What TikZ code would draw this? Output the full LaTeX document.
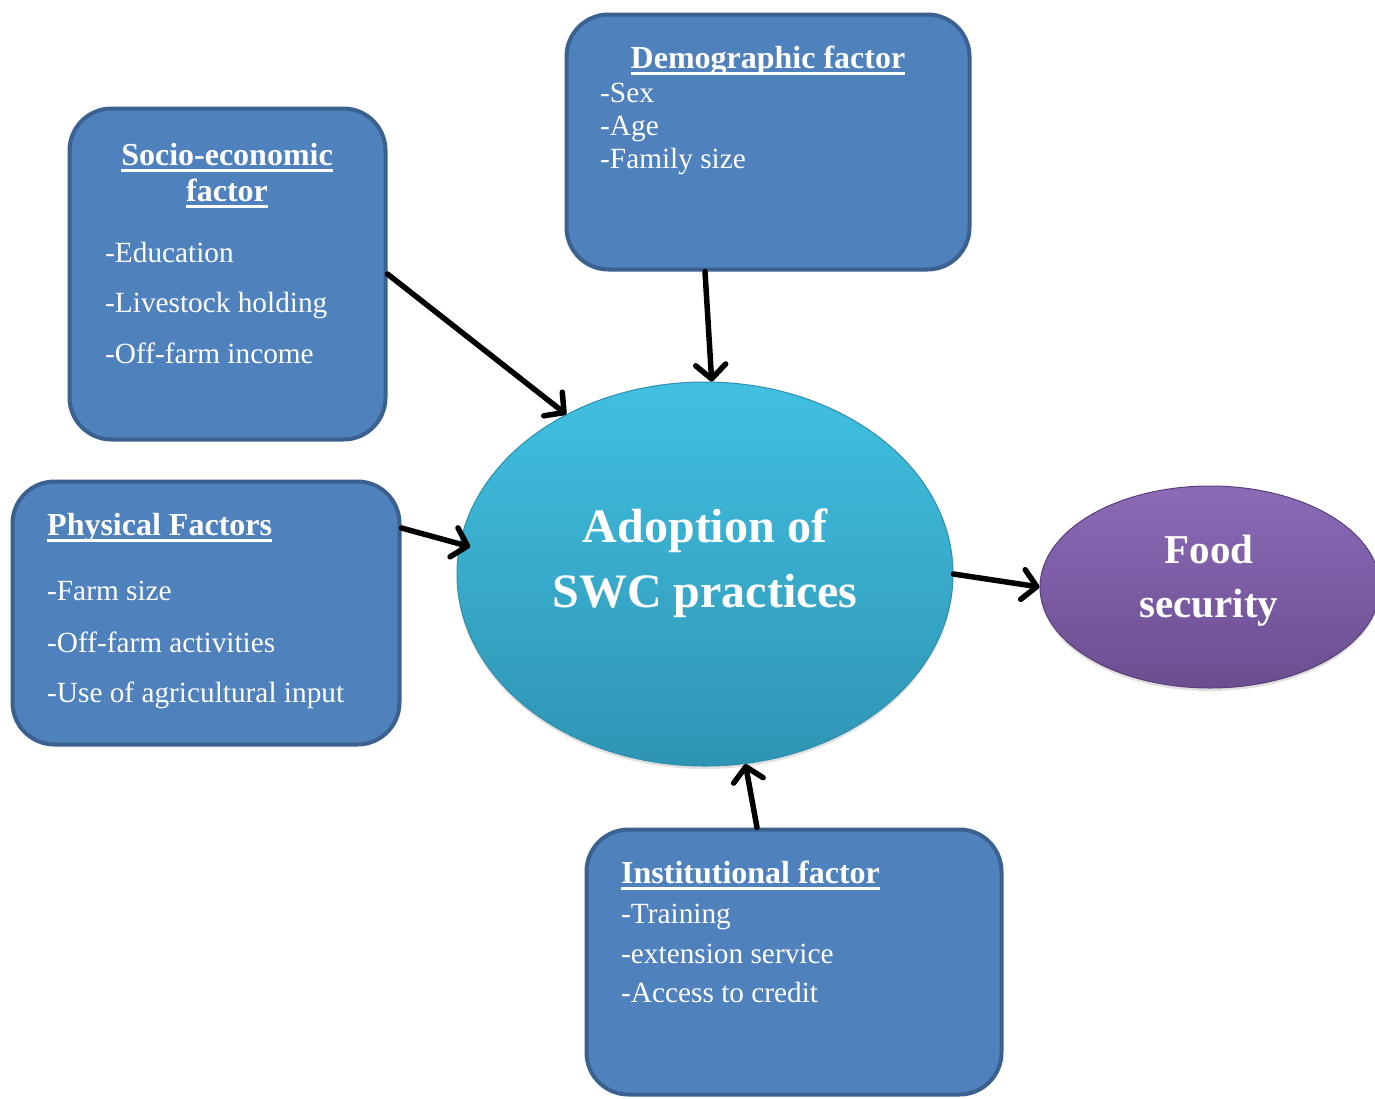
\documentclass[tikz,border=0pt]{standalone}
\usepackage{fontspec}
\setmainfont{Liberation Serif}
\usepackage{tikz}
\usetikzlibrary{shapes.geometric, arrows.meta, shadows, positioning}
\newcommand{\ulhead}[1]{\setbox0\hbox{#1}\rlap{\rule[-6.5pt]{\wd0}{2.8pt}}\box0}
\definecolor{boxfill}{HTML}{4F81BD}
\definecolor{boxline}{HTML}{3A6190}
\definecolor{swctop}{HTML}{41C0E1}
\definecolor{swcbot}{HTML}{2F94B4}
\definecolor{swcline}{HTML}{2E8FAE}
\definecolor{foodtop}{HTML}{8C6AB7}
\definecolor{foodbot}{HTML}{6B4E90}
\definecolor{foodline}{HTML}{5A4079}
\tikzstyle{factor} = [rectangle, rounded corners=42pt, draw=boxline, line width=4pt, fill=boxfill, inner sep=0pt]
\tikzstyle{head} = [text=white, font=\bfseries\fontsize{32}{36}\selectfont, inner sep=0pt]
\tikzstyle{item} = [text=white, font=\fontsize{29.3}{34}\selectfont, inner sep=0pt, anchor=base west]
\tikzstyle{blob} = [ellipse, inner sep=0pt, drop shadow={opacity=0.25, shadow xshift=0pt, shadow yshift=-3pt}]
\tikzstyle{arrow} = [line width=5.5pt, line cap=round, -{Straight Barb[length=14pt, width=30pt, round]}]
\begin{document}
\begin{tikzpicture}[x=1pt, y=-1pt]
		\useasboundingbox (0,0) rectangle (1375,1098);
		% factor boxes
		\node (Socio) [factor, minimum width=316pt, minimum height=331pt] at (227.5,274) {};
		\node (Demo) [factor, minimum width=403pt, minimum height=255pt] at (768,142) {};
		\node (Phys) [factor, minimum width=387pt, minimum height=263pt] at (206,613) {};
		\node (Inst) [factor, minimum width=415pt, minimum height=265pt] at (794,962) {};
		% centre and outcome
		\node (SWC) [blob, minimum width=496pt, minimum height=384pt, top color=swctop, bottom color=swcbot, draw=swcline, line width=1pt] at (705,574) {};
		\node (Food) [blob, minimum width=340pt, minimum height=202pt, top color=foodtop, bottom color=foodbot, draw=foodline, line width=1pt] at (1210,587) {};
		% texts
		\node (SocioHead) [head, anchor=base] at (227,165) {\ulhead{Socio-economic}};
		\node (SocioHead2) [head, anchor=base] at (227,201) {\ulhead{factor}};
		\node (SocioA) [item] at (105,262) {-Education};
		\node (SocioB) [item] at (105,312) {-Livestock holding};
		\node (SocioC) [item] at (105,363) {-Off-farm income};
		\node (DemoHead) [head, anchor=base] at (768,68) {\ulhead{Demographic factor}};
		\node (DemoA) [item] at (600,102) {-Sex};
		\node (DemoB) [item] at (600,135) {-Age};
		\node (DemoC) [item] at (600,168) {-Family size};
		\node (PhysHead) [head, anchor=base west] at (47,535) {\ulhead{Physical Factors}};
		\node (PhysA) [item] at (47,600) {-Farm size};
		\node (PhysB) [item] at (47,652) {-Off-farm activities};
		\node (PhysC) [item] at (47,702) {-Use of agricultural input};
		\node (InstHead) [head, anchor=base west] at (621,883) {\ulhead{Institutional factor}};
		\node (InstA) [item] at (621,923) {-Training};
		\node (InstB) [item] at (621,963) {-extension service};
		\node (InstC) [item] at (621,1002) {-Access to credit};
		\node (SWCText) [head, font=\bfseries\fontsize{48}{52}\selectfont, anchor=base] at (705,542) {Adoption of};
		\node (SWCText2) [head, font=\bfseries\fontsize{48}{52}\selectfont, anchor=base] at (705,607) {SWC practices};
		\node (FoodText) [head, font=\bfseries\fontsize{41}{46}\selectfont, anchor=base] at (1209,563) {Food};
		\node (FoodText2) [head, font=\bfseries\fontsize{41}{46}\selectfont, anchor=base] at (1209,617) {security};
		% connectors
		\draw [arrow] (Socio.east) -- (SWC.131);
		\draw [arrow] ([xshift=-63pt]Demo.south) -- (SWC.88);
		\draw [arrow, shorten >=-11pt] ([yshift=85pt]Phys.east) -- (SWC.173);
		\draw [arrow] ([xshift=-37pt]Inst.north) -- (SWC.282);
		\draw [arrow] (SWC.east) -- (Food.west);
	\end{tikzpicture}
\end{document}
